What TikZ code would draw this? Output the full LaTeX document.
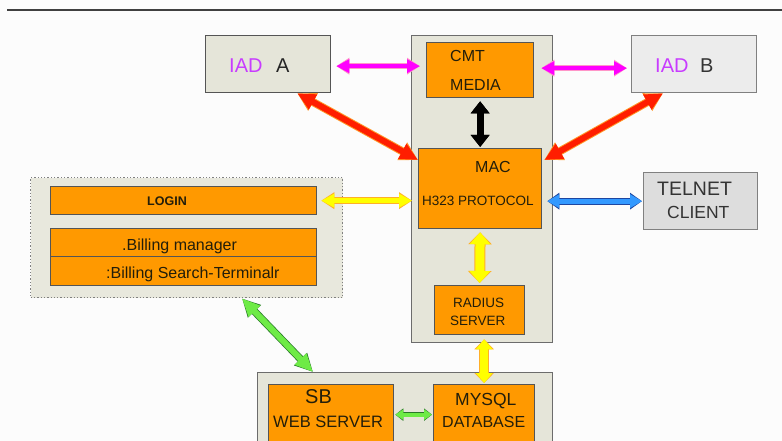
\documentclass[tikz,border=0pt]{standalone}
\usepackage{fontspec}
\setmainfont{Liberation Sans}
\usetikzlibrary{arrows.meta,calc}
\definecolor{orng}{RGB}{255,153,0}
\definecolor{panel}{RGB}{229,229,217}
\definecolor{iadbg}{RGB}{236,236,236}
\definecolor{telbg}{RGB}{221,221,221}
\definecolor{edge}{RGB}{85,85,85}
\definecolor{iadpink}{RGB}{200,60,255}
\definecolor{txt}{RGB}{35,30,10}
\definecolor{pinkA}{RGB}{255,0,255}
\definecolor{pinkE}{RGB}{255,150,200}
\definecolor{redA}{RGB}{255,30,0}
\definecolor{redE}{RGB}{255,150,40}
\definecolor{yelA}{RGB}{255,255,0}
\definecolor{yelE}{RGB}{255,175,40}
\definecolor{bluA}{RGB}{51,153,255}
\definecolor{bluE}{RGB}{30,70,160}
\definecolor{grnA}{RGB}{110,235,70}
\definecolor{grnE}{RGB}{40,120,40}
\tikzset{
  boxbase/.style={rectangle, anchor=north west, inner sep=0pt, line width=1.3pt, draw=edge},
  obox/.style={boxbase, fill=orng},
  gpanel/.style={boxbase, fill=panel, draw=gray!85!black},
  dpanel/.style={boxbase, fill=panel!90!white, draw=gray, dotted, line width=1.4pt},
  lbl/.style={anchor=base west, inner sep=0pt, text=txt},
  dbl/.style n args={7}{% fill, edge, lw, hw, hl, edge lw, edge hw
    preaction={draw=#2, line width=#6,
      arrows={Triangle[width=#7,length=#5]-Triangle[width=#7,length=#5]}},
    draw=#1, line width=#3,
    arrows={Triangle[width=#4,length=#5]-Triangle[width=#4,length=#5]}},
}
\begin{document}
\begin{tikzpicture}[x=1pt,y=-1pt]
\useasboundingbox (0,0) rectangle (782,441);
\clip (0,0) rectangle (782,441);
\fill[white!98!gray] (0,0) rectangle (782,441);
\coordinate (tl) at (7,10);
\coordinate (tr) at (782,10);
\draw[line width=2pt, draw=black!75] (tl) -- (tr);
% panels
\node[gpanel, minimum width=141pt, minimum height=307pt] (cpanel) at (411,35) {};
\node[gpanel, minimum width=295pt, minimum height=90pt] (bpanel) at (257,372) {};
\node[dpanel, minimum width=312pt, minimum height=120pt] (lpanel) at (30,177) {};
% outer boxes
\node[boxbase, fill=panel, minimum width=125pt, minimum height=57pt] (iada) at (205,35) {};
\node[boxbase, fill=iadbg, draw=gray, minimum width=125pt, minimum height=57pt] (iadb) at (631,35) {};
\node[boxbase, fill=telbg, draw=gray, minimum width=114pt, minimum height=57pt] (telnet) at (643,172) {};
% orange boxes
\node[obox, minimum width=107pt, minimum height=55pt] (cmt) at (426,42) {};
\node[obox, minimum width=123pt, minimum height=80pt] (mac) at (418,148) {};
\node[obox, minimum width=90pt, minimum height=49pt] (radius) at (434,285) {};
\node[obox, minimum width=266pt, minimum height=28pt] (login) at (50,186) {};
\node[obox, minimum width=266pt, minimum height=28pt] (bill1) at (50,228) {};
\node[obox, minimum width=266pt, minimum height=29pt] (bill2) at (50,256) {};
\node[obox, minimum width=125pt, minimum height=66pt] (sb) at (268,384) {};
\node[obox, minimum width=101pt, minimum height=66pt] (mysql) at (433,384) {};
% texts
\node[lbl, font=\fontsize{20}{22}\selectfont, text=iadpink] (tiad1) at (229,73) {IAD};
\node[lbl, font=\fontsize{20}{22}\selectfont, text=black!85] (ta) at (276,73) {A};
\node[lbl, font=\fontsize{20}{22}\selectfont, text=iadpink] (tiad2) at (655,73) {IAD};
\node[lbl, font=\fontsize{20}{22}\selectfont, text=black!80] (tb) at (700,73) {B};
\node[lbl, font=\fontsize{16}{18}\selectfont] (tcmt) at (450,62) {CMT};
\node[lbl, font=\fontsize{16}{18}\selectfont] (tmedia) at (450,91) {MEDIA};
\node[lbl, font=\fontsize{16}{18}\selectfont] (tmac) at (475,173) {MAC};
\node[lbl, font=\fontsize{13.5}{16}\selectfont] (th323) at (422,205) {H323 PROTOCOL};
\node[lbl, font=\fontsize{12.5}{14}\selectfont\bfseries] (tlogin) at (147,205) {LOGIN};
\node[lbl, font=\fontsize{16}{18}\selectfont] (tbm) at (122,250) {.Billing manager};
\node[lbl, font=\fontsize{16}{18}\selectfont] (tbs) at (106,278) {:Billing Search-Terminalr};
\node[lbl, font=\fontsize{19.5}{22}\selectfont, text=black!80] (ttel) at (657,195) {TELNET};
\node[lbl, font=\fontsize{17.5}{20}\selectfont, text=black!80] (tcli) at (667,218) {CLIENT};
\node[lbl, font=\fontsize{13.5}{16}\selectfont] (trad) at (453,307) {RADIUS};
\node[lbl, font=\fontsize{13.5}{16}\selectfont] (tserv) at (450,325) {SERVER};
\node[lbl, font=\fontsize{17.5}{20}\selectfont] (tmy) at (455,405) {MYSQL};
\node[lbl, font=\fontsize{16}{18}\selectfont] (tdb) at (442,427) {DATABASE};
\node[lbl, font=\fontsize{20}{22}\selectfont] (tsb) at (305,403) {SB};
\node[lbl, font=\fontsize{16.5}{18}\selectfont] (tws) at (273,427) {WEB SERVER};
% connectors
\draw[dbl={pinkA}{pinkE}{4pt}{13pt}{13pt}{6pt}{16pt}, shorten <=5pt, shorten >=6pt]
  ([yshift=-2pt]iada.east) -- ([yshift=-2pt]iada.east -| cmt.west);
\draw[dbl={pinkA}{pinkE}{4pt}{13pt}{13pt}{6pt}{16pt}, shorten <=7pt, shorten >=4pt]
  ([yshift=-4pt]iadb.west -| cmt.east) -- ([yshift=-4pt]iadb.west);
\draw[dbl={black}{black}{7pt}{18pt}{12pt}{7pt}{18pt}, shorten <=3pt, shorten >=1pt]
  (cmt.south) -- (mac.north);
\draw[dbl={redA}{redE}{6pt}{16pt}{18pt}{8pt}{19pt}]
  ([xshift=-34pt]iada.south east) -- ([yshift=-12pt]mac.north west);
\draw[dbl={redA}{redE}{6pt}{16pt}{18pt}{8pt}{19pt}]
  ([xshift=32pt]iadb.south west) -- ([yshift=-12pt,xshift=2pt]mac.north east);
\draw[dbl={yelA}{yelE}{5pt}{13pt}{13pt}{7pt}{16pt}, shorten <=4pt, shorten >=6pt]
  (login.east) -- (login.east -| mac.west);
\draw[dbl={bluA}{bluE}{5pt}{13pt}{12pt}{7pt}{16pt}, shorten <=5pt, shorten >=1pt]
  (mac.east |- telnet.west) -- (telnet.west);
\draw[dbl={yelA}{yelE}{9pt}{20pt}{12pt}{11pt}{23pt}, shorten <=3pt, shorten >=2pt]
  (mac.south) -- (radius.north);
\draw[dbl={yelA}{yelE}{8pt}{16pt}{10pt}{10pt}{19pt}, shorten <=4pt, shorten >=1pt]
  (mysql.north |- radius.south) -- (mysql.north);
\draw[dbl={grnA}{grnE}{6pt}{15pt}{18pt}{7.5pt}{17pt}]
  ([xshift=212pt]lpanel.south west) -- ([xshift=56pt]bpanel.north west);
\draw[dbl={grnA}{grnE}{4pt}{10pt}{8pt}{5.5pt}{12pt}, shorten <=1pt, shorten >=1pt]
  ([yshift=3pt]sb.east) -- ([yshift=3pt]sb.east -| mysql.west);
\end{tikzpicture}
\end{document}
